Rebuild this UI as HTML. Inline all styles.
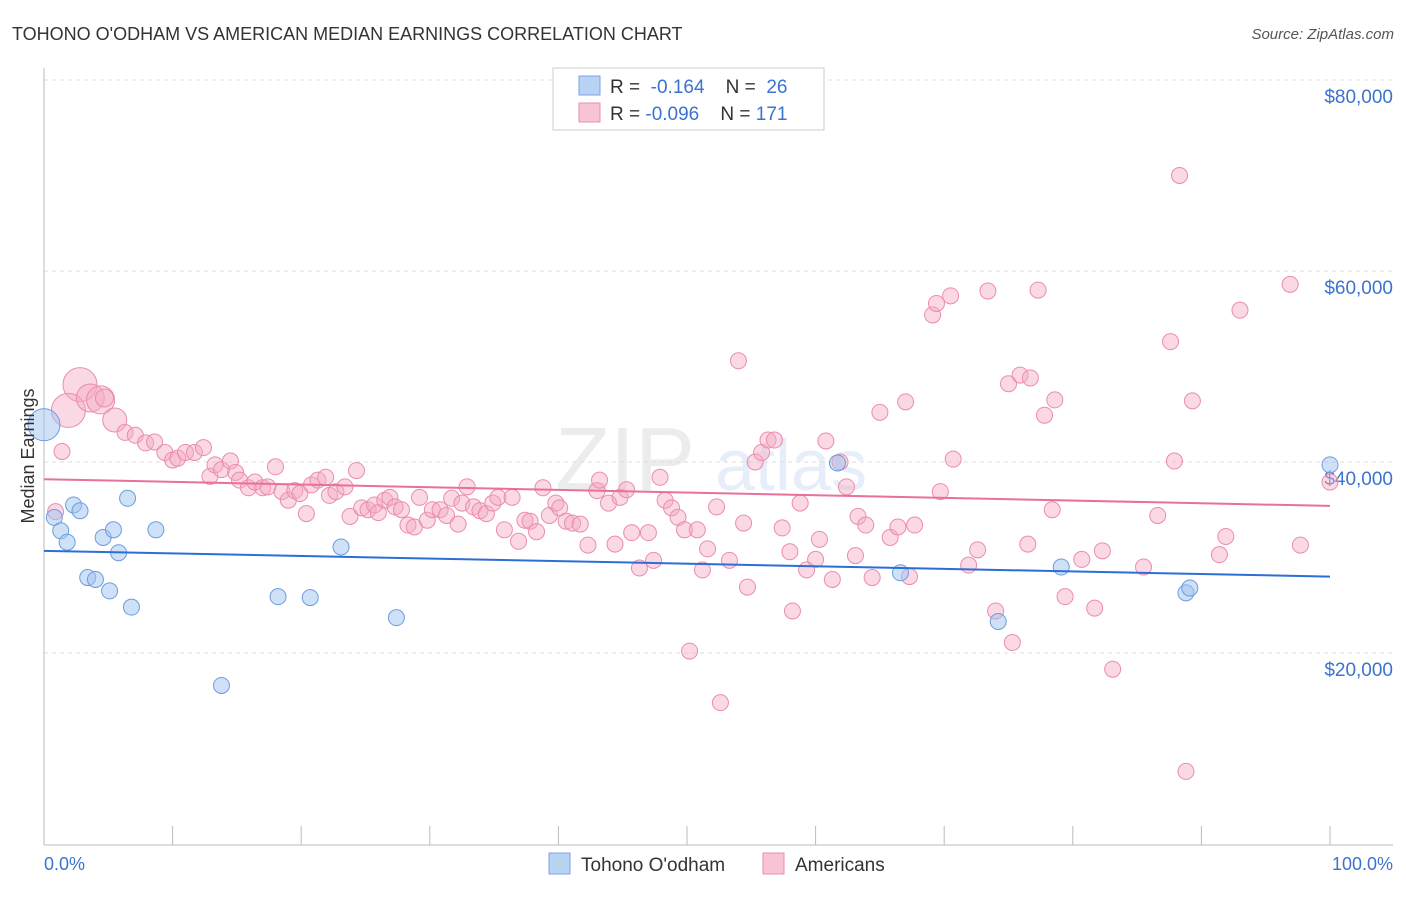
<!DOCTYPE html>
<html><head><meta charset="utf-8"><style>
body{margin:0;background:#fff;font-family:"Liberation Sans",sans-serif;}
svg text{font-family:"Liberation Sans",sans-serif;}
</style></head><body>
<svg id="chart" width="1406" height="892" viewBox="0 0 1406 892" xmlns="http://www.w3.org/2000/svg">
<text x="12" y="40" font-size="18" fill="#333">TOHONO O'ODHAM VS AMERICAN MEDIAN EARNINGS CORRELATION CHART</text>
<text x="1394" y="39" font-size="15" fill="#555" font-style="italic" text-anchor="end">Source: ZipAtlas.com</text>
<g opacity="0.13">
<text x="555" y="490" font-size="90" fill="#777" font-family="Liberation Serif">ZIP</text>
<text x="715" y="490" font-size="72" fill="#4a7fd4">atlas</text>
</g>
<g id="grid"></g>
<g id="axes"></g>
<g id="pts"></g>
<g id="trends"></g>
<text transform="translate(34,456) rotate(-90)" font-size="18" fill="#333" text-anchor="middle">Median Earnings</text>
<text x="44" y="870" font-size="18" fill="#3b73d0">0.0%</text>
<text x="1393" y="870" font-size="18" fill="#3b73d0" text-anchor="end">100.0%</text>
<g>
<rect x="553" y="68" width="271" height="62" fill="#fff" stroke="#ccc"/>
<rect x="579" y="76" width="21" height="19" fill="#b8d3f4" stroke="#7aa6e3"/>
<rect x="579" y="103" width="21" height="19" fill="#f8c4d4" stroke="#ea8fb0"/>
<text x="610" y="93" font-size="19" fill="#333">R = <tspan fill="#3b73d0">&#160;-0.164</tspan>&#160;&#160;&#160; N = &#160;<tspan fill="#3b73d0">26</tspan></text>
<text x="610" y="120" font-size="19" fill="#333">R = <tspan fill="#3b73d0">-0.096</tspan>&#160;&#160;&#160; N = <tspan fill="#3b73d0">171</tspan></text>
</g>
<g>
<rect x="549" y="853" width="21" height="21" fill="#b8d3f4" stroke="#7aa6e3"/>
<text x="581" y="871" font-size="19" fill="#333">Tohono O'odham</text>
<rect x="763" y="853" width="21" height="21" fill="#f8c4d4" stroke="#ea8fb0"/>
<text x="795" y="871" font-size="19" fill="#333">Americans</text>
</g>
</svg>
<script>
const yTicks=[20000,40000,60000,80000];
const yTickLabels=["$20,000","$40,000","$60,000","$80,000"];
const xTicks=[0,10,20,30,40,50,60,70,80,90,100];
const blueX=[0,0.8,1.3,1.8,2.3,2.8,3.4,4.0,4.6,5.1,5.4,5.8,6.5,6.8,8.7,13.8,18.2,20.7,23.1,27.4,61.7,66.6,74.2,79.1,88.8,89.1,100];
const blueY=[43.9,34.2,32.8,31.6,35.5,34.9,27.9,27.7,32.1,26.5,32.9,30.5,36.2,24.8,32.9,16.6,25.9,25.8,31.1,23.7,39.9,28.4,23.3,29.0,26.3,26.8,39.7];
const blueR=[16,8,8,8,8,8,8,8,8,8,8,8,8,8,8,8,8,8,8,8,8,8,8,8,8,8,8];
const pinkX=[0.9,1.4,2.8,1.9,3.6,4.4,4.7,5.5,6.3,7.1,7.9,8.6,9.4,10.0,10.4,11.0,11.7,12.4,12.9,13.3,13.8,14.5,14.9,15.2,15.9,16.4,17.0,17.4,18.0,18.5,19.0,19.5,19.9,20.4,20.8,21.3,21.9,22.2,22.7,23.4,23.8,24.3,24.7,25.2,25.7,26.0,26.5,26.9,27.3,27.8,28.3,28.8,29.2,29.8,30.2,30.8,31.3,31.7,32.2,32.5,32.9,33.4,33.9,34.4,34.9,35.3,35.8,36.4,36.9,37.4,37.8,38.3,38.8,39.3,39.8,40.1,40.6,41.1,41.7,42.3,43.0,43.2,43.9,44.4,44.8,45.3,45.7,46.3,47.0,47.4,47.9,48.3,48.8,49.3,49.8,50.2,50.8,51.2,51.6,52.3,52.6,53.3,54.0,54.4,54.7,55.3,55.8,56.3,56.8,57.4,58.0,58.2,58.8,59.3,60.0,60.3,60.8,61.3,61.9,62.4,63.1,63.3,63.9,64.4,65.0,65.8,66.4,67.0,67.3,67.7,69.1,69.4,70.5,70.7,69.7,71.9,72.6,73.4,74.0,75.0,75.3,75.9,76.7,77.3,77.8,78.6,76.5,78.4,79.4,80.7,81.7,82.3,83.1,85.5,86.6,87.6,87.9,88.3,88.8,89.3,91.4,91.9,93.0,96.9,97.7,100];
const pinkY=[34.8,41.1,48.1,45.4,46.7,46.5,46.7,44.4,43.1,42.8,42.0,42.1,41.0,40.2,40.4,41.0,41.0,41.5,38.5,39.7,39.2,40.1,38.9,38.1,37.3,37.9,37.3,37.4,39.5,36.9,36.0,37.0,36.7,34.6,37.6,38.1,38.4,36.5,36.9,37.4,34.3,39.1,35.2,35.0,35.5,34.7,36.0,36.3,35.3,35.0,33.4,33.2,36.3,33.9,35.0,35.0,34.4,36.2,33.5,35.7,37.4,35.3,34.9,34.6,35.7,36.3,32.9,36.3,31.7,33.9,33.8,32.7,37.3,34.4,35.7,35.2,33.8,33.6,33.5,31.3,37.0,38.1,35.7,31.4,36.3,37.1,32.6,28.9,32.6,29.7,38.4,36.0,35.2,34.2,32.9,20.2,32.9,28.7,30.9,35.3,14.8,29.7,50.6,33.6,26.9,40.0,41.0,42.3,42.3,33.1,30.6,24.4,35.7,28.7,29.8,31.9,42.2,27.7,40.0,37.4,30.2,34.3,33.4,27.9,45.2,32.1,33.2,46.3,28.0,33.4,55.4,56.6,57.4,40.3,36.9,29.2,30.8,57.9,24.4,48.2,21.1,49.1,48.8,58.0,44.9,46.5,31.4,35.0,25.9,29.8,24.7,30.7,18.3,29.0,34.4,52.6,40.1,70.0,7.6,46.4,30.3,32.2,55.9,58.6,31.3,37.9];
const pinkBig=[0,0,17,17,14,14,9,12];
const blueTrend=[30.7,28.0];
const pinkTrend=[38.2,35.4];
const NS="http://www.w3.org/2000/svg";
const X0=44,X1=1330,YB=844,PXK=764/80;
function xs(p){return X0+(X1-X0)*p/100;}
function ys(k){return YB-k*PXK;}
function mk(tag,attrs,parent){const e=document.createElementNS(NS,tag);for(const k in attrs)e.setAttribute(k,attrs[k]);parent.appendChild(e);return e;}
const grid=document.getElementById('grid'),axes=document.getElementById('axes');
yTicks.forEach((v,i)=>{
  const l=mk('line',{x1:44,x2:1393,y1:ys(v/1000),y2:ys(v/1000),stroke:'#ddd','stroke-dasharray':'4,4'},grid);
  
  
  const t=mk('text',{x:1393,y:ys(v/1000)+23,'font-size':19,fill:'#3b73d0','text-anchor':'end'},axes);
  t.textContent=yTickLabels[i];
  
  
});
const ax=mk('line',{x1:44,x2:44,y1:68,y2:845,stroke:'#bbb'},axes);


const bx=mk('line',{x1:44,x2:1393,y1:845,y2:845,stroke:'#bbb'},axes);


xTicks.forEach(p=>{
  const t=mk('line',{x1:xs(p),x2:xs(p),y1:826,y2:845,stroke:'#bbb'},axes);
  
  
});
const pts=document.getElementById('pts');
pinkX.forEach((x,i)=>{
  const c=mk('circle',{cx:xs(x),cy:ys(pinkY[i]),r:pinkBig[i]||8,fill:'rgba(244,170,195,0.45)',stroke:'#eb8cae','stroke-width':1},pts);
  
  
});
blueX.forEach((x,i)=>{
  const c=mk('circle',{cx:xs(x),cy:ys(blueY[i]),r:blueR[i],fill:'rgba(160,195,240,0.5)',stroke:'#6b9de0','stroke-width':1},pts);
  
  
});
const tr=document.getElementById('trends');
const bl=mk('line',{x1:xs(0),x2:xs(100),y1:ys(blueTrend[0]),y2:ys(blueTrend[1]),stroke:'#2b6fd6','stroke-width':2},tr);


const pl=mk('line',{x1:xs(0),x2:xs(100),y1:ys(pinkTrend[0]),y2:ys(pinkTrend[1]),stroke:'#e8709a','stroke-width':2},tr);


</script>
</body></html>
